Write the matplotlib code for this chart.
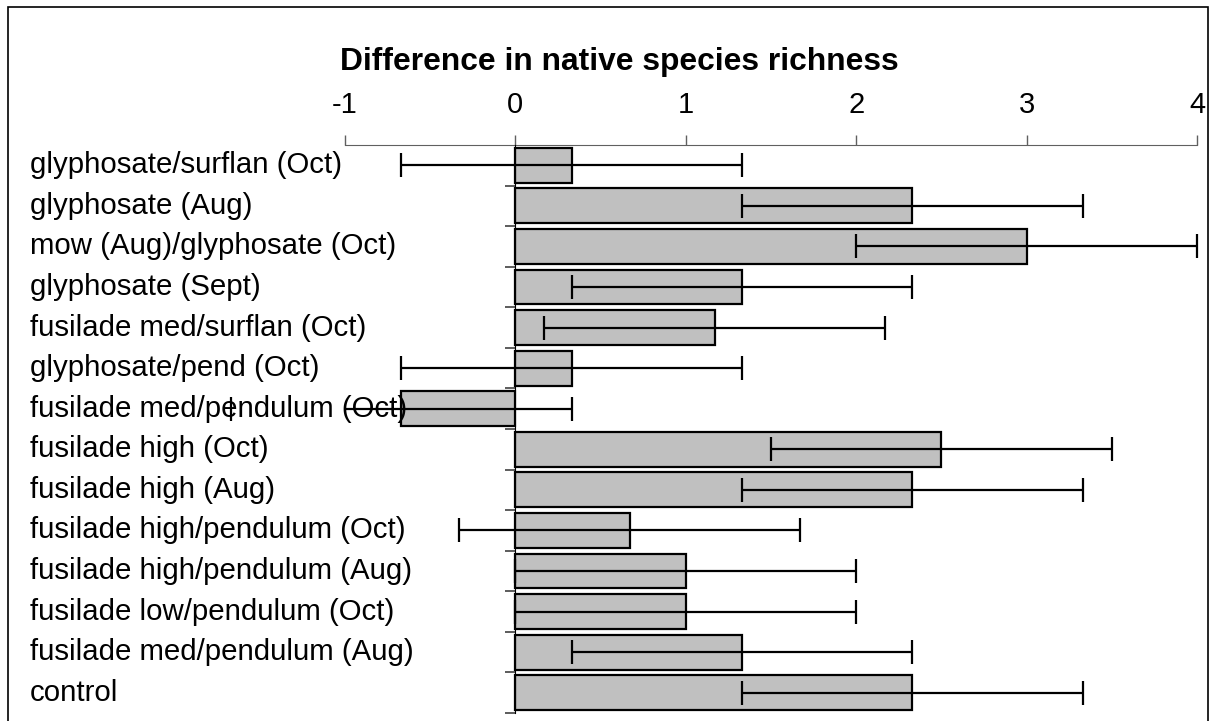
import matplotlib
matplotlib.use("Agg")
import matplotlib.pyplot as plt
from matplotlib.patches import Rectangle
from matplotlib.transforms import blended_transform_factory

plt.rcParams["font.family"] = ["Liberation Sans", "DejaVu Sans"]

# data
treatments = [
    "glyphosate/surflan (Oct)",
    "glyphosate (Aug)",
    "mow (Aug)/glyphosate (Oct)",
    "glyphosate (Sept)",
    "fusilade med/surflan (Oct)",
    "glyphosate/pend (Oct)",
    "fusilade med/pendulum (Oct)",
    "fusilade high (Oct)",
    "fusilade high (Aug)",
    "fusilade high/pendulum (Oct)",
    "fusilade high/pendulum (Aug)",
    "fusilade low/pendulum (Oct)",
    "fusilade med/pendulum (Aug)",
    "control",
]
difference = [0.33, 2.33, 3.0, 1.33, 1.17, 0.33, -0.67, 2.5, 2.33, 0.67, 1.0, 1.0, 1.33, 2.33]
err = [1.0] * len(treatments)
xticks = [-1, 0, 1, 2, 3, 4]

W, H = 1212, 721
fig = plt.figure(figsize=(W / 100, H / 100), dpi=100)
ax = fig.add_axes([345 / W, 1 - 713 / H, (1197 - 345) / W, (713 - 145) / H])

n = len(treatments)
ypos = list(range(n))
ax.barh(ypos, difference, height=0.86, color="#C0C0C0", edgecolor="black",
        linewidth=1.6, zorder=2)
_, caps, bars = ax.errorbar(difference, ypos, xerr=err, fmt="none", ecolor="black",
                            elinewidth=1.6, capsize=8.5, capthick=1.6, zorder=3)
for c in caps:
    c.set_clip_on(False)

ax.set_xlim(-1, 4)
ax.set_ylim(n - 0.5, -0.5)

# axis styling (Excel-ish: axis on top, y axis at zero)
ax.xaxis.tick_top()
ax.set_xticks(xticks)
ax.set_xticklabels([str(v) for v in xticks], fontsize=21)
ax.tick_params(axis="x", direction="out", length=7, width=1, pad=12)
ax.spines["bottom"].set_visible(False)
ax.spines["right"].set_visible(False)
ax.spines["left"].set_position(("data", 0))
ax.spines["left"].set_zorder(4)
ax.spines["top"].set_color("#606060")
ax.tick_params(axis="x", color="#606060")
ax.set_yticks([i + 0.5 for i in range(n)])
ax.set_yticklabels([])
ax.tick_params(axis="y", direction="out", length=7.5, width=1.1, color="#303030")

# category labels at the left edge of the figure
trans = blended_transform_factory(fig.transFigure, ax.transData)
for y, name in zip(ypos, treatments):
    ax.text(30 / W, y, name, transform=trans, ha="left", va="center",
            fontsize=21.2, zorder=5, clip_on=False)

fig.text(619 / W, 1 - 62 / H, "Difference in native species richness",
         ha="center", va="center", fontsize=22.9, fontweight="bold")

# outer border of the chart area
fig.patches.append(Rectangle((8 / W, -0.05), (1208 - 8) / W, 1.05 - 7 / H,
                             transform=fig.transFigure, fill=False,
                             edgecolor="black", linewidth=1.2))

fig.savefig("out.png", dpi=100)
